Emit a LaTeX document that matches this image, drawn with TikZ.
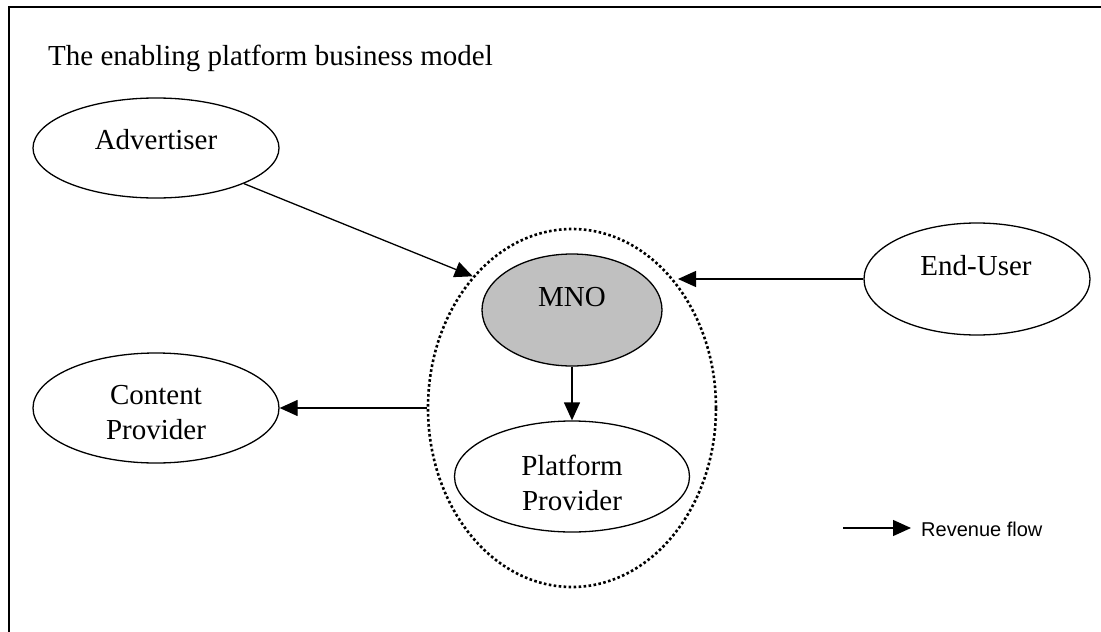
\documentclass[tikz,border=0pt]{standalone}
\usepackage{fontspec}
\setmainfont{Liberation Serif}
\newfontfamily\legendfont{Liberation Sans}
\usetikzlibrary{shapes.geometric,arrows.meta}
\definecolor{mnogray}{RGB}{192,192,192}
\begin{document}
\begin{tikzpicture}[x=1pt,y=-1pt,
  oval/.style={ellipse,draw,line width=1.3pt,inner sep=0pt},
  lbl/.style={font=\fontsize{29}{35}\selectfont,inner sep=0pt},
  flow/.style={line width=1.3pt,-{Triangle[length=18pt,width=16pt]}},
  grpstyle/.style={ellipse,draw,line width=2.6pt,dash pattern=on 2.6pt off 2.4pt,inner sep=0pt}]
\useasboundingbox (0,0) rectangle (1101,632);
\draw[line width=1.5pt] (9,632) -- (9,7) -- (1101,7);
\node[lbl,anchor=base west] (title) at (48,65) {The enabling platform business model};
% ellipses
\node[oval,minimum width=246pt,minimum height=100pt] (adv) at (156,148) {};
\node[oval,minimum width=226pt,minimum height=112pt] (eu) at (977,279) {};
\node[oval,minimum width=246pt,minimum height=110pt] (cp) at (156,408) {};
\node[oval,fill=mnogray,minimum width=180pt,minimum height=112pt] (mno) at (572,310) {};
\node[oval,minimum width=235pt,minimum height=111pt] (pp) at (572,476.5) {};
\node[grpstyle,minimum width=288pt,minimum height=358pt] (grp) at (572,408) {};
% labels
\node[lbl,anchor=base] (advT) at (156,149) {Advertiser};
\node[lbl,anchor=base] (mnoT) at (572,306) {MNO};
\node[lbl,anchor=base] (euT) at (976,275) {End-User};
\node[lbl,align=center] (cpT) at (156,413) {Content\\Provider};
\node[lbl,align=center] (ppT) at (572,483) {Platform\\Provider};
% connectors
\coordinate (euTip) at (678,279);
\draw[flow] (adv) -- (grp.127);
\draw[flow] (eu.west) -- (euTip);
\draw[flow] (grp.west) -- (cp.east);
\draw[flow] (mno.south) -- (pp.north);
% legend
\coordinate (legA) at (843,528);
\coordinate (legB) at (911,528);
\draw[flow] (legA) -- (legB);
\node[font=\legendfont\fontsize{20}{24}\selectfont,anchor=base west,inner sep=0pt] (legT) at (921,536) {Revenue flow};
\end{tikzpicture}
\end{document}
